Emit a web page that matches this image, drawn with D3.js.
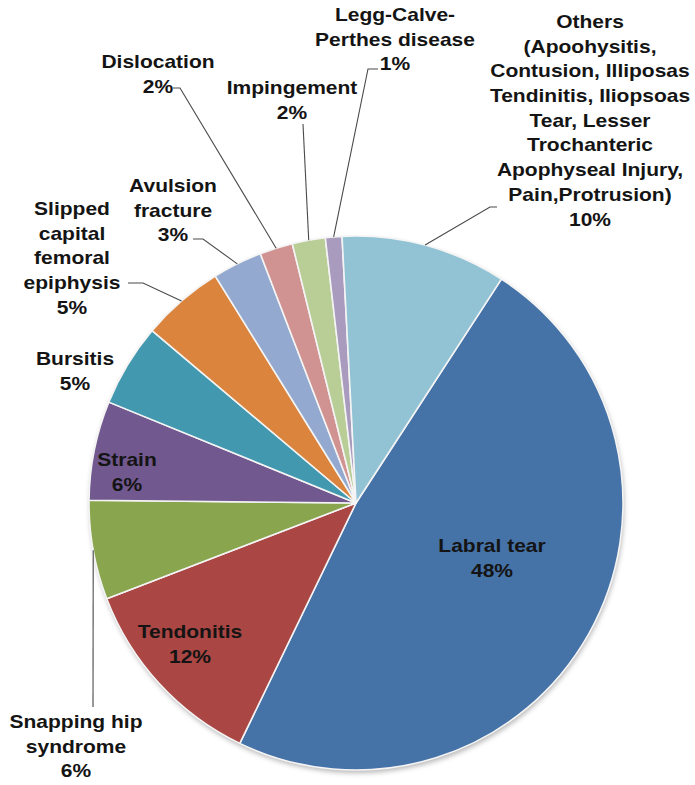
<!DOCTYPE html>
<html>
<head>
<meta charset="utf-8">
<script src="https://cdn.jsdelivr.net/npm/d3@7/dist/d3.min.js"></script>
<style>
  html, body { margin: 0; padding: 0; background: #ffffff; }
  svg { display: block; }
  .lbl { font-family: "Liberation Sans", Arial, sans-serif; font-weight: bold; font-size: 17.8px; fill: #141414; }
</style>
</head>
<body>
<svg id="chart" width="695" height="785"></svg>
<script>
// Diagnoses, in clockwise order starting with Labral tear
const categories = [
  "Labral tear", "Tendonitis", "Snapping hip syndrome", "Strain", "Bursitis",
  "Slipped capital femoral epiphysis", "Avulsion fracture", "Dislocation",
  "Impingement", "Legg-Calve-Perthes disease", "Others"
];
// Share of cases (%)
const shares = [48, 12, 6, 6, 5, 5, 3, 2, 2, 1, 10];
// Label text lines (name part) for each category
const labelLines = [
  ["Labral tear"],
  ["Tendonitis"],
  ["Snapping hip", "syndrome"],
  ["Strain"],
  ["Bursitis"],
  ["Slipped", "capital", "femoral", "epiphysis"],
  ["Avulsion", "fracture"],
  ["Dislocation"],
  ["Impingement"],
  ["Legg-Calve-", "Perthes disease"],
  ["Others", "(Apoohysitis,", "Contusion, Illiposas", "Tendinitis, Iliopsoas", "Tear, Lesser", "Trochanteric", "Apophyseal Injury,", "Pain,Protrusion)"]
];
const colors = [
  "#4572A7", "#AA4643", "#89A54E", "#71588F", "#4198AF",
  "#DB843D", "#93A9CF", "#D19392", "#B9CD96", "#A99BBD", "#92C3D5"
];

const svg = d3.select("#chart");
const cx = 356, cy = 503, R = 267;
const start = 33 * Math.PI / 180;

const pie = d3.pie().sort(null).value(d => d.v)
  .startAngle(start).endAngle(start + 2 * Math.PI);
const data = categories.map((c, i) => ({ c, v: shares[i], color: colors[i], lines: labelLines[i] }));
const arcs = pie(data);
const arc = d3.arc().innerRadius(0).outerRadius(R);

const defs = svg.append("defs");
const f = defs.append("filter").attr("id", "shadow")
  .attr("x", "-10%").attr("y", "-10%").attr("width", "120%").attr("height", "120%");
f.append("feDropShadow").attr("dx", 1).attr("dy", 3).attr("stdDeviation", 2.5)
  .attr("flood-color", "#000").attr("flood-opacity", 0.28);

const g = svg.append("g").attr("transform", `translate(${cx},${cy})`);

// pie body with soft shadow underneath
g.append("circle").attr("r", R).attr("fill", "#ffffff").attr("filter", "url(#shadow)");
g.selectAll("path.slice").data(arcs).join("path")
  .attr("class", "slice")
  .attr("d", arc)
  .attr("fill", d => d.data.color)
  .attr("stroke", "#f4f4f4")
  .attr("stroke-width", 1.6)
  .attr("stroke-linejoin", "round");

// label placement: centre of first line, and leader elbow points
const layout = {
  "Labral tear": { x: 492, y: 546 },
  "Tendonitis": { x: 190, y: 632 },
  "Strain": { x: 127, y: 460 },
  "Bursitis": { x: 75, y: 359 },
  "Snapping hip syndrome": { x: 76, y: 722, leader: [[93, 707]] },
  "Slipped capital femoral epiphysis": { x: 72, y: 209, leader: [[143, 283], [128, 283]] },
  "Avulsion fracture": { x: 173, y: 186, leader: [[203, 239], [193, 239]] },
  "Dislocation": { x: 158, y: 62, leader: [[180, 88], [173, 88]] },
  "Impingement": { x: 292, y: 88, leader: [[303, 124]] },
  "Legg-Calve-Perthes disease": { x: 395, y: 15, leader: [[368, 69], [378, 69]] },
  "Others": { x: 590, y: 22, leader: [[490, 207], [497, 207]] }
};
const lineH = 24.7;
const xStretch = 1.18;

// leader lines from the outer edge of each slice
const leaderLine = d3.line();
arcs.forEach(d => {
  const L = layout[d.data.c];
  if (!L.leader) return;
  const a = (d.startAngle + d.endAngle) / 2;
  const p0 = [cx + R * Math.sin(a), cy - R * Math.cos(a)];
  svg.append("path")
    .attr("d", leaderLine([p0, ...L.leader]))
    .attr("fill", "none")
    .attr("stroke", "#4a4a4a")
    .attr("stroke-width", 1.1);
});

// labels: name lines followed by the percentage
arcs.forEach(d => {
  const L = layout[d.data.c];
  const lines = [...d.data.lines, d.data.v + "%"];
  const lg = svg.append("g")
    .attr("transform", `translate(${L.x},${L.y + 6}) scale(${xStretch},1)`);
  lines.forEach((t, i) => {
    lg.append("text").attr("class", "lbl")
      .attr("text-anchor", "middle")
      .attr("x", 0).attr("y", i * lineH)
      .text(t);
  });
});
</script>
</body>
</html>
